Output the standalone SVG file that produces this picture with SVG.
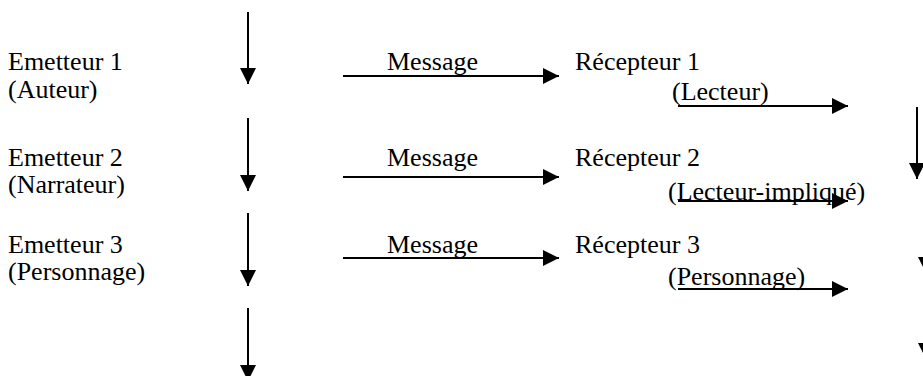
<svg xmlns="http://www.w3.org/2000/svg" width="923" height="376" viewBox="0 0 923 376">
<style>
text{font-family:"Liberation Serif","Times New Roman",serif;font-size:26px;fill:#000}
.c line{stroke:#000;stroke-width:2}
</style>
<defs>
<marker id="ah" viewBox="0 0 16 16" refX="16" refY="8" markerWidth="16" markerHeight="16" markerUnits="userSpaceOnUse" orient="auto">
<path d="M0,0 L16,8 L0,16 Z" fill="#000"/>
</marker>
</defs>
<rect width="923" height="376" fill="#fff"/>
<g id="emetteur1"><text x="8" y="70">Emetteur 1</text><text x="8" y="98">(Auteur)</text></g>
<g id="emetteur2"><text x="8" y="166">Emetteur 2</text><text x="8" y="193">(Narrateur)</text></g>
<g id="emetteur3"><text x="8" y="253">Emetteur 3</text><text x="8" y="280">(Personnage)</text></g>
<g id="message1"><text x="387" y="70">Message</text></g>
<g id="message2"><text x="387" y="166">Message</text></g>
<g id="message3"><text x="387" y="253">Message</text></g>
<g id="recepteur1"><text x="575" y="70">Récepteur 1</text><text x="672" y="100">(Lecteur)</text></g>
<g id="recepteur2"><text x="575" y="166">Récepteur 2</text><text x="668" y="200">(Lecteur-impliqué)</text></g>
<g id="recepteur3"><text x="575" y="253">Récepteur 3</text><text x="668" y="285">(Personnage)</text></g>
<g id="connectors" class="c">
<line x1="248" y1="12" x2="248" y2="84" marker-end="url(#ah)"/>
<line x1="248" y1="118" x2="248" y2="191" marker-end="url(#ah)"/>
<line x1="248" y1="213" x2="248" y2="286" marker-end="url(#ah)"/>
<line x1="248" y1="308" x2="248" y2="381" marker-end="url(#ah)"/>
<line x1="343" y1="76" x2="559" y2="76" marker-end="url(#ah)"/>
<line x1="343" y1="177" x2="559" y2="177" marker-end="url(#ah)"/>
<line x1="343" y1="258" x2="559" y2="258" marker-end="url(#ah)"/>
<line x1="678" y1="106" x2="848" y2="106" marker-end="url(#ah)"/>
<line x1="678" y1="201" x2="848" y2="201" marker-end="url(#ah)"/>
<line x1="678" y1="289" x2="848" y2="289" marker-end="url(#ah)"/>
<line x1="917" y1="107" x2="917" y2="179" marker-end="url(#ah)"/>
<line x1="926" y1="200" x2="926" y2="273" marker-end="url(#ah)"/>
<line x1="926" y1="286" x2="926" y2="359" marker-end="url(#ah)"/>
</g>
</svg>
